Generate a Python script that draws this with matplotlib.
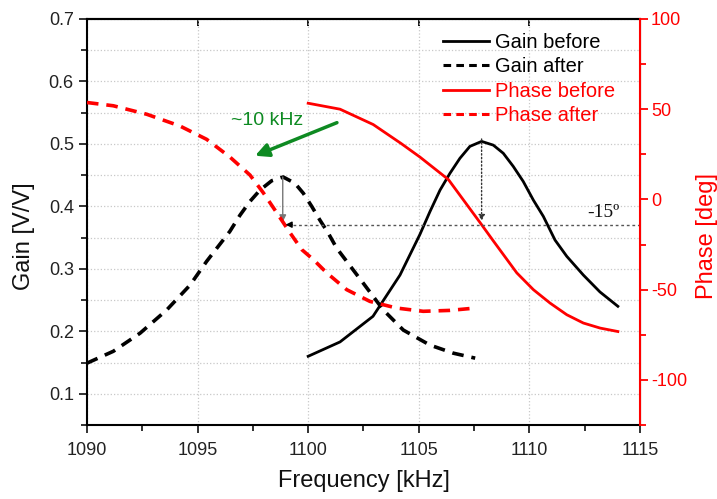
import numpy as np
import matplotlib
matplotlib.use('Agg')
from matplotlib import pyplot as plt
from matplotlib.lines import Line2D
from matplotlib.ticker import MultipleLocator

plt.rcParams['font.family'] = ['Liberation Sans', 'DejaVu Sans']
plt.rcParams['axes.unicode_minus'] = False

# gain before (solid black)
f_gb = [1100.0, 1101.44, 1102.93, 1104.15, 1105.05, 1105.51, 1105.96, 1106.41, 1106.86,
        1107.31, 1107.84, 1108.37, 1108.82, 1109.27, 1109.72, 1110.18, 1110.63, 1111.16,
        1111.69, 1112.44, 1113.19, 1114.0]
g_gb = [0.160, 0.183, 0.224, 0.290, 0.355, 0.392, 0.426, 0.453, 0.477,
        0.496, 0.504, 0.498, 0.485, 0.464, 0.440, 0.410, 0.384, 0.346,
        0.320, 0.290, 0.263, 0.240]

# gain after (dashed black)
f_ga = [1090.0, 1091.19, 1092.4, 1093.6, 1094.66, 1095.41, 1096.46, 1096.92, 1097.37,
        1097.82, 1098.35, 1098.87, 1099.4, 1099.78, 1100.16, 1100.53, 1100.91, 1101.29,
        1102.49, 1103.4, 1104.3, 1105.5, 1106.56, 1107.55]
g_ga = [0.149, 0.168, 0.197, 0.234, 0.274, 0.312, 0.360, 0.386, 0.408,
        0.426, 0.441, 0.447, 0.437, 0.421, 0.400, 0.378, 0.357, 0.333,
        0.277, 0.234, 0.202, 0.178, 0.165, 0.157]

# phase before (solid red)
f_pb = [1100.0, 1101.44, 1102.94, 1104.2, 1105.05, 1106.34, 1107.0, 1107.84,
        1108.37, 1109.43, 1110.18, 1110.93, 1111.69, 1112.44, 1113.2, 1114.0]
p_pb = [53.3, 50.0, 41.5, 31.0, 23.5, 11.0, 0.0, -14.0,
        -23.0, -40.7, -50.0, -57.4, -63.9, -68.5, -71.3, -73.2]

# phase after (dashed red)
f_pa = [1090.0, 1091.19, 1092.7, 1094.2, 1095.41, 1096.46, 1097.37, 1097.97, 1098.58,
        1099.18, 1099.71, 1100.23, 1100.84, 1101.74, 1102.79, 1104.0, 1105.2, 1106.4,
        1107.55]
p_pa = [53.7, 51.9, 47.2, 40.7, 33.3, 23.5, 13.5, 3.7, -7.4,
        -18.5, -27.8, -33.3, -40.7, -50.0, -56.5, -60.2, -62.0, -61.5,
        -60.2]

xticks = [1090, 1095, 1100, 1105, 1110, 1115]
gain_ticks = [0.1, 0.2, 0.3, 0.4, 0.5, 0.6, 0.7]
phase_ticks = [-100, -50, 0, 50, 100]

red = '#ff0000'
green = '#0e8a22'

fig = plt.figure(figsize=(7.17, 4.99), dpi=100)
ax = fig.add_axes([0.1213, 0.1483, 0.7713, 0.8137])
ax2 = ax.twinx()

ax.plot(f_gb, g_gb, color='black', lw=2)
ax.plot(f_ga, g_ga, color='black', lw=2.6, dashes=(3.2, 2.2))
ax2.plot(f_pb, p_pb, color=red, lw=2)
ax2.plot(f_pa, p_pa, color=red, lw=2.6, dashes=(3.2, 2.2))

ax.set_xlim(1090, 1115)
ax.set_ylim(0.05, 0.7)
ax2.set_ylim(-125, 100)
ax.set_xticks(xticks)
ax.set_yticks(gain_ticks)
ax2.set_yticks(phase_ticks)
ax.xaxis.set_minor_locator(MultipleLocator(2.5))
ax.yaxis.set_minor_locator(MultipleLocator(0.05))
ax2.yaxis.set_minor_locator(MultipleLocator(25))

ax.grid(True, which='major', axis='x', color='#c8c8c8', ls=':', lw=0.9)
ax.grid(True, which='both', axis='y', color='#c8c8c8', ls=':', lw=0.9)
ax.set_axisbelow(True)

ax.tick_params(axis='both', which='major', labelsize=13, direction='out', length=6, width=1.3, colors='#222222')
ax.tick_params(axis='both', which='minor', direction='out', length=4, width=1.3, colors='#222222')
ax.tick_params(axis='x', which='major', pad=6)
ax2.tick_params(axis='y', which='major', labelsize=13, direction='out', length=6, width=1.3, colors=red, pad=2)
ax2.tick_params(axis='y', which='minor', direction='out', length=4, width=1.3, colors=red)

# top ticks inward, majors only
sec = ax.secondary_xaxis('top')
sec.set_xticks(xticks)
sec.tick_params(direction='in', length=5, width=1.3, labeltop=False)
sec.spines['top'].set_linewidth(1.5)
ax.tick_params(axis='x', which='both', top=False)

for s in ['left', 'bottom', 'top']:
    ax.spines[s].set_linewidth(1.5)
ax2.spines['right'].set_color(red)
ax2.spines['right'].set_linewidth(1.5)
for s in ['left', 'bottom', 'top']:
    ax2.spines[s].set_visible(False)

ax.set_xlabel('Frequency [kHz]', fontsize=17, labelpad=8, color='#111111')
ax.set_ylabel('Gain [V/V]', fontsize=17, color='#111111')
ax.yaxis.set_label_coords(-0.094, 0.465)
ax2.set_ylabel('Phase [deg]', fontsize=17, color=red)
ax2.yaxis.set_label_coords(1.101, 0.465)

# -15 deg marker
ax2.plot([1099.3, 1115], [-14, -14], color='#555555', ls=(0, (2, 2)), lw=1)
ax2.annotate('', xy=(1098.85, -14), xytext=(1099.4, -14),
             arrowprops=dict(arrowstyle='-|>', color='black', lw=1, mutation_scale=9))
ax.annotate('', xy=(1098.85, 0.375), xytext=(1098.85, 0.447),
            arrowprops=dict(arrowstyle='-|>', color='#777777', lw=1, mutation_scale=10,
                            shrinkA=0, shrinkB=0))
ax2.annotate('', xy=(1107.84, -12), xytext=(1107.84, 33.5),
             arrowprops=dict(arrowstyle='-|>', color='#333333', lw=1, ls=':', mutation_scale=9,
                             shrinkA=0, shrinkB=0))
ax2.text(1112.6, -7, '-15º', family='Liberation Serif', fontsize=14, ha='left', va='center', color='#111111')

# frequency shift arrow
ax.annotate('', xy=(1097.6, 0.481), xytext=(1101.3, 0.534),
            arrowprops=dict(arrowstyle='-|>', color=green, lw=2.5, mutation_scale=20,
                            shrinkA=0, shrinkB=0))
ax.text(1098.15, 0.537, '~10 kHz', color=green, fontsize=14, ha='center', va='center')

handles = [Line2D([], [], color='black', lw=2),
           Line2D([], [], color='black', lw=2.2, dashes=(2.5, 1.7)),
           Line2D([], [], color=red, lw=2),
           Line2D([], [], color=red, lw=2.2, dashes=(2.5, 1.7))]
labels = ['Gain before', 'Gain after', 'Phase before', 'Phase after']
leg = ax2.legend(handles, labels, loc='upper left', bbox_to_anchor=(443 / 717, 1 - 33 / 499),
                 bbox_transform=fig.transFigure, frameon=False, fontsize=14.5,
                 handlelength=2.3, handletextpad=0.3, labelspacing=0.27,
                 borderpad=0, borderaxespad=0)
for t, c in zip(leg.get_texts(), ['black', 'black', red, red]):
    t.set_color(c)

fig.savefig('out.png', dpi=100)
